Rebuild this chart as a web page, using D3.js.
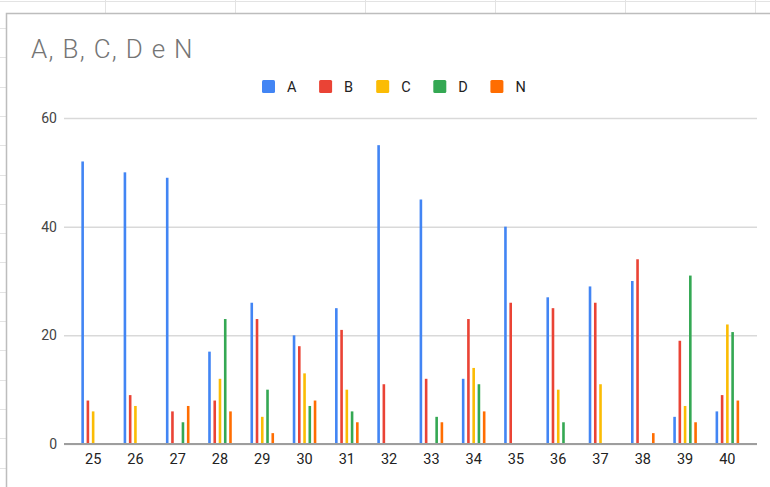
<!DOCTYPE html>
<html><head><meta charset="utf-8">
<script src="https://cdn.jsdelivr.net/npm/d3@7"></script>
<style>html,body{margin:0;padding:0;background:#fff;}svg{display:block;font-family:Roboto,Arial,sans-serif;}</style>
</head><body>
<svg id="c" width="770" height="487"></svg>
<script>
const categories = ["25","26","27","28","29","30","31","32","33","34","35","36","37","38","39","40"];
const seriesNames = ["A","B","C","D","N"];
const A = [52,50,49,17,26,20,25,55,45,12,40,27,29,30,5,6];
const B = [8,9,6,8,23,18,21,11,12,23,26,25,26,34,19,9];
const C = [6,7,0,12,5,13,10,0,0,14,0,10,11,0,7,22];
const D = [0,0,4,23,10,7,6,0,5,11,0,4,0,0,31,20.6];
const N = [0,0,7,6,2,8,4,0,4,6,0,0,0,2,4,8];
const yTicks = [0,20,40,60];
const colors = ["#4285F4","#EA4335","#FBBC04","#34A853","#FF6D01"];
const series = [A,B,C,D,N];

const svg = d3.select("#c");
// spreadsheet background grid
const bg = svg.append("g");
bg.append("line").attr("x1",0).attr("x2",770).attr("y1",1.5).attr("y2",1.5).attr("stroke","#e3e3e3");
[105,235,365,495,625,755].forEach(x=>bg.append("line").attr("x1",x+0.5).attr("x2",x+0.5).attr("y1",0).attr("y2",13).attr("stroke","#e3e3e3"));
for(let k=0;k<17;k++){const y=Math.round(28+29.3*k)+0.5;bg.append("line").attr("x1",0).attr("x2",6).attr("y1",y).attr("y2",y).attr("stroke","#e3e3e3");}
// card
svg.append("rect").attr("x",6.5).attr("y",13.5).attr("width",780).attr("height",500).attr("fill","#fff").attr("stroke","#bdbdbd").attr("stroke-width",1.5);

const x = d3.scaleBand().domain(categories).range([72,748.5]).padding(0);
const y = d3.scaleLinear().domain([0,60]).range([444,118]);
const plotL = 64, plotR = 757;

// gridlines
const gy = svg.append("g").attr("transform",`translate(${plotL},0)`)
  .call(d3.axisLeft(y).tickValues(yTicks).tickSize(-(plotR-plotL)).tickFormat(d=>d));
gy.select(".domain").remove();
gy.selectAll(".tick line").attr("stroke","#d9d9d9").attr("stroke-width",1.5);
gy.selectAll(".tick text").attr("x",-7).attr("fill","#444").attr("font-size",14).attr("font-family","Roboto,Arial,sans-serif");

// bars
const slot = 5.25, bw = 2.6;
series.forEach((vals,si)=>{
  svg.append("g").selectAll("rect").data(vals.map((v,i)=>({c:categories[i],v})).filter(d=>d.v>0))
    .join("rect")
    .attr("x",d=>x(d.c)+x.bandwidth()/2+(si-2)*slot-bw/2)
    .attr("y",d=>y(d.v))
    .attr("width",bw)
    .attr("height",d=>y(0)-y(d.v))
    .attr("fill",colors[si]);
});

// baseline
svg.append("line").attr("x1",plotL).attr("x2",plotR).attr("y1",y(0)).attr("y2",y(0)).attr("stroke","#9e9e9e").attr("stroke-width",2);

// x axis labels
const gx = svg.append("g").attr("transform",`translate(0,${y(0)})`)
  .call(d3.axisBottom(x).tickSize(0).tickPadding(10));
gx.select(".domain").remove();
gx.selectAll(".tick text").attr("fill","#222").attr("font-size",14.5).attr("font-family","Roboto,Arial,sans-serif");

// title
svg.append("text").attr("x",31).attr("y",57.5).text("A, B, C, D e N")
  .attr("font-size",26).attr("font-weight",300).attr("letter-spacing",1.3).attr("fill","#757575");

// legend
const lg = svg.append("g");
seriesNames.forEach((n,i)=>{
  const lx = 262 + i*57.1;
  lg.append("rect").attr("x",lx).attr("y",80).attr("width",13).attr("height",13).attr("rx",1.5).attr("fill",colors[i]);
  lg.append("text").attr("x",lx+25).attr("y",91.5).text(n).attr("font-size",14.5).attr("fill","#222");
});
</script>
</body></html>
